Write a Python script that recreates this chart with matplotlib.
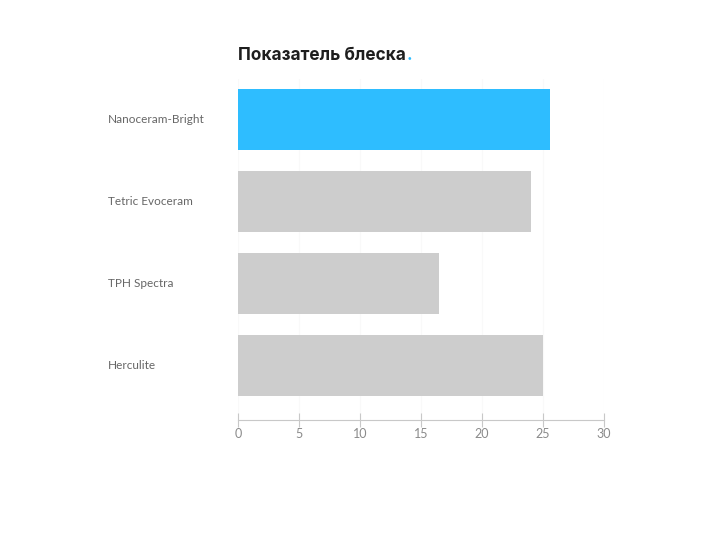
import matplotlib
matplotlib.use("Agg")
import matplotlib.pyplot as plt
from matplotlib.transforms import blended_transform_factory

materials = ["Nanoceram-Bright", "Tetric Evoceram", "TPH Spectra", "Herculite"]
gloss = [25.6, 24.0, 16.5, 25.0]
bar_colors = ["#2ebdff", "#cdcdcd", "#cdcdcd", "#cdcdcd"]
x_ticks = [0, 5, 10, 15, 20, 25, 30]

plt.rcParams["font.family"] = ["Lato", "DejaVu Sans"]

fig = plt.figure(figsize=(7.2, 5.4), dpi=100)
ax = fig.add_axes([0.3306, 0.2222, 0.5083, 0.6324])

pos = list(range(len(materials)))
ax.barh(pos, gloss, height=0.745, color=bar_colors, zorder=2)

ax.set_xlim(0, 30)
ax.set_ylim(3.665, -0.5)
ax.set_xticks(x_ticks)
ax.set_xticklabels([str(v) for v in x_ticks], color="#8a8a8a", fontsize=9)
ax.tick_params(axis="x", direction="inout", length=10, width=0.8, color="#c8c8c8", pad=1)
ax.grid(axis="x", color="#f9f9f9", linewidth=0.8, zorder=0)

ax.set_yticks([])
trans = blended_transform_factory(fig.transFigure, ax.transData)
for p, name in zip(pos, materials):
    ax.text(108 / 720, p, name, transform=trans, ha="left", va="center",
            fontsize=8.5, color="#666666")

for side in ["top", "right", "left"]:
    ax.spines[side].set_visible(False)
ax.spines["bottom"].set_color("#c8c8c8")
ax.spines["bottom"].set_linewidth(0.8)

title = fig.text(238 / 720, 1 - 56 / 540, "Показатель блеска", fontsize=12.4, fontweight="bold",
                 family=["Inter", "DejaVu Sans"], color="#1e1e1e", ha="left", va="center")
ax.annotate(".", xy=(1, 0), xycoords=title, xytext=(0.5, 0), textcoords="offset points",
            ha="left", va="bottom", fontsize=12.4, fontweight="bold",
            family=["Inter", "DejaVu Sans"], color="#2ebdff")

fig.savefig("out.png", dpi=100)
